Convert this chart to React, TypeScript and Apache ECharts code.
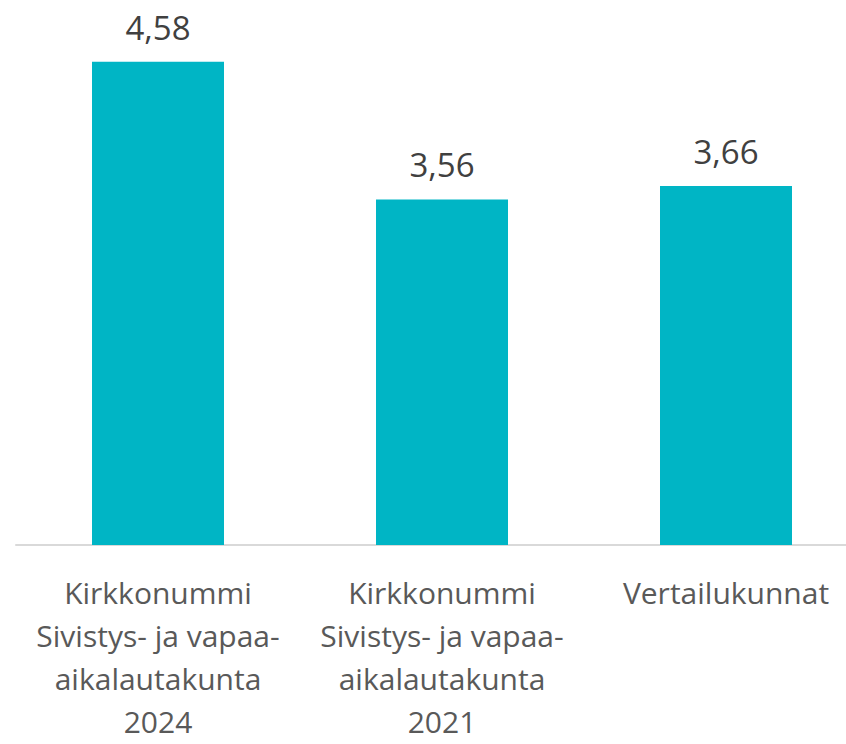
import React, { useEffect, useRef } from "react";
import * as echarts from "echarts";

const categories = [
  "Kirkkonummi\nSivistys- ja vapaa-\naikalautakunta\n2024",
  "Kirkkonummi\nSivistys- ja vapaa-\naikalautakunta\n2021",
  "Vertailukunnat",
];
const values = [4.58, 3.56, 3.66];

export default function App() {
  const ref = useRef<HTMLDivElement>(null);
  useEffect(() => {
    document.body.style.margin = "0";
    const chart = echarts.init(ref.current!, null, { renderer: "svg" });
    chart.setOption({
      animation: false,
      grid: {
        left: 16,
        width: 852,
        top: 5,
        height: 540,
        containLabel: false,
        outerBoundsMode: "none",
      },
      xAxis: {
        type: "category",
        data: categories,
        axisLine: { show: true, lineStyle: { color: "#D9D9D9", width: 2 } },
        axisTick: { show: false },
        axisLabel: {
          interval: 0,
          margin: 26,
          fontFamily: "Open Sans",
          fontSize: 30,
          lineHeight: 43,
          color: "#595959",
        },
      },
      yAxis: {
        type: "value",
        min: 1,
        max: 5,
        show: false,
        splitLine: { show: false },
      },
      series: [
        {
          type: "bar",
          data: values,
          barWidth: 132,
          itemStyle: { color: "#00B5C5" },
          label: {
            show: true,
            position: "top",
            distance: 18,
            fontFamily: "Open Sans",
            fontSize: 33,
            color: "#404040",
            formatter: (p: any) => p.value.toFixed(2).replace(".", ","),
          },
        },
      ],
    });
    return () => chart.dispose();
  }, []);
  return <div ref={ref} style={{ width: 846, height: 744 }} />;
}
